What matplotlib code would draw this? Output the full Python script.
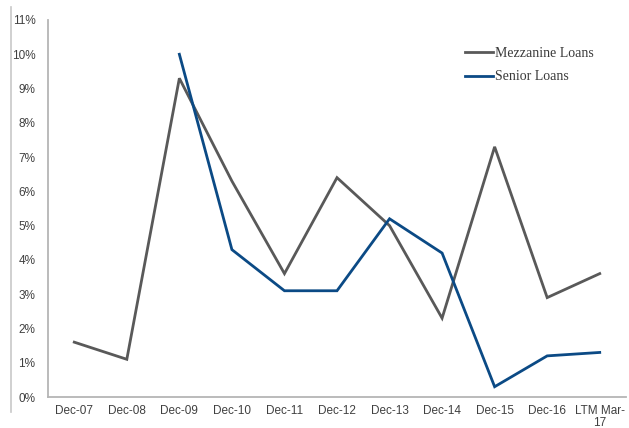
import matplotlib
matplotlib.use("Agg")
import matplotlib.pyplot as plt
from matplotlib.lines import Line2D
from matplotlib.ticker import FuncFormatter

categories = ["Dec-07", "Dec-08", "Dec-09", "Dec-10", "Dec-11", "Dec-12",
              "Dec-13", "Dec-14", "Dec-15", "Dec-16", "LTM Mar-\n17"]
mezzanine = [1.6, 1.1, 9.3, 6.3, 3.6, 6.4, 5.0, 2.3, 7.3, 2.9, 3.6]
senior = [None, None, 10.0, 4.3, 3.1, 3.1, 5.2, 4.2, 0.3, 1.2, 1.3]

fig = plt.figure(figsize=(6.29, 4.28), dpi=100)
ax = fig.add_axes([48/629, 31/428, 578/629, 377/428])

x = list(range(len(categories)))
ax.plot(x, mezzanine, color="#595959", lw=2.0, label="Mezzanine Loans", solid_joinstyle="miter")
sx = [i for i, v in zip(x, senior) if v is not None]
sv = [v for v in senior if v is not None]
ax.plot(sx, sv, color="#0b4a85", lw=2.0, label="Senior Loans", solid_joinstyle="miter")

ax.set_xlim(-0.5, 10.5)
ax.set_ylim(0, 11)
ax.set_yticks(range(0, 12))
ax.yaxis.set_major_formatter(FuncFormatter(lambda v, p: f"{int(v)}%"))
ax.set_xticks(x)
ax.set_xticklabels(categories, linespacing=0.95)

for s in ["top", "right"]:
    ax.spines[s].set_visible(False)
for s in ["left", "bottom"]:
    ax.spines[s].set_color("#b5b5b5")
    ax.spines[s].set_linewidth(1.3)
ax.tick_params(length=0, labelsize=8.5, labelcolor="#404040", labelfontfamily="Liberation Sans")
ax.tick_params(axis="y", pad=9)
ax.tick_params(axis="x", pad=6)

leg = ax.legend(loc="upper left", bbox_to_anchor=((465-48)/578, (397-47)/377), frameon=False,
                prop={"family": "Liberation Serif", "size": 10},
                handlelength=2.0, handletextpad=0.15, labelspacing=0.75,
                borderpad=0, borderaxespad=0)
for t in leg.get_texts():
    t.set_color("#3a3a3a")

fig.add_artist(Line2D([11/629, 11/629], [1 - 7/428, 1 - 412/428],
                      transform=fig.transFigure, color="#c8c8c8", lw=1.2))

fig.savefig("out.png", dpi=100)
